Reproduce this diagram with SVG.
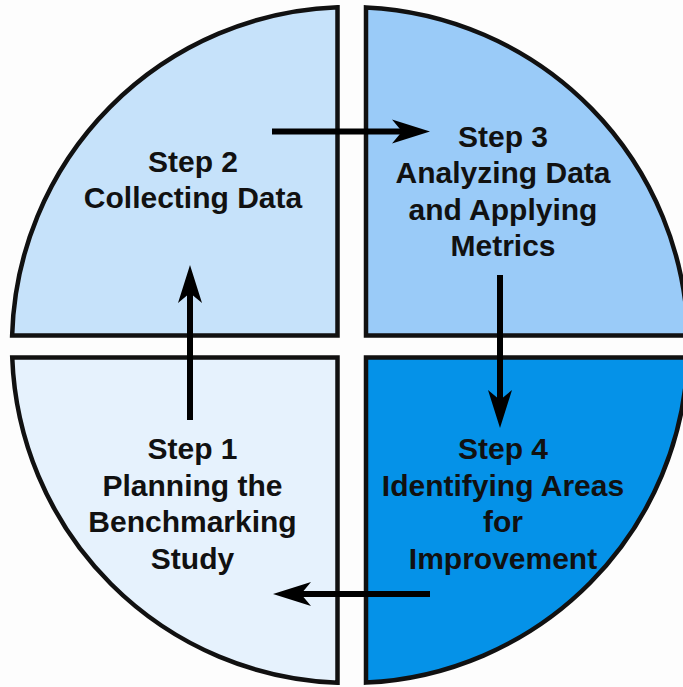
<svg xmlns="http://www.w3.org/2000/svg" width="683" height="687" viewBox="0 0 683 687">
  <style>
    .quad { stroke: #111111; stroke-width: 4.5; stroke-linejoin: miter; }
    .label { font-family: "Liberation Sans", Arial, sans-serif; font-weight: bold; font-size: 30px; fill: #111111; text-anchor: middle; }
    .flow { stroke: #000000; stroke-width: 6; fill: none; marker-end: url(#head); }
  </style>
  <defs>
    <marker id="head" viewBox="0 -13 40 26" refX="10" refY="0" markerWidth="40" markerHeight="26" markerUnits="userSpaceOnUse" orient="auto">
      <path d="M0,-12 L38,0 L0,12 L10,0 Z" fill="#000000"/>
    </marker>
  </defs>

  <rect width="683" height="687" fill="#fdfdfd"/>

  <!-- Step 2: top-left quarter -->
  <g id="step2">
    <path class="quad" fill="#c6e2fa" d="M337.5,335.5 L12.13,335.5 A338,338 0 0,1 337.5,7.23 Z"/>
    <text class="label" x="193" y="171.5">Step 2</text>
    <text class="label" x="193" y="207.5">Collecting Data</text>
  </g>

  <!-- Step 3: top-right quarter -->
  <g id="step3">
    <path class="quad" fill="#9acbf8" d="M366,335.5 L366,7.38 A338,338 0 0,1 687.87,335.5 Z"/>
    <text class="label" x="503" y="146.5">Step 3</text>
    <text class="label" x="503" y="183">Analyzing Data</text>
    <text class="label" x="503" y="219.5">and Applying</text>
    <text class="label" x="503" y="256">Metrics</text>
  </g>

  <!-- Step 4: bottom-right quarter -->
  <g id="step4">
    <path class="quad" fill="#0592e8" d="M366,357.5 L687.77,357.5 A338,338 0 0,1 366,682.62 Z"/>
    <text class="label" x="503" y="459">Step 4</text>
    <text class="label" x="503" y="495.5">Identifying Areas</text>
    <text class="label" x="503" y="532">for</text>
    <text class="label" x="503" y="568.5">Improvement</text>
  </g>

  <!-- Step 1: bottom-left quarter -->
  <g id="step1">
    <path class="quad" fill="#e6f2fd" d="M337.5,357.5 L337.5,682.77 A338,338 0 0,1 12.23,357.5 Z"/>
    <text class="label" x="192.5" y="459">Step 1</text>
    <text class="label" x="192.5" y="495.5">Planning the</text>
    <text class="label" x="192.5" y="532">Benchmarking</text>
    <text class="label" x="192.5" y="568.5">Study</text>
  </g>

  <!-- cycle arrows between the steps -->
  <g id="connectors">
    <line class="flow" x1="190" y1="420" x2="190" y2="293"/>
    <line class="flow" x1="272" y1="131.5" x2="402" y2="131.5"/>
    <line class="flow" x1="500" y1="275" x2="500" y2="400"/>
    <line class="flow" x1="430" y1="594" x2="301" y2="594"/>
  </g>
</svg>
